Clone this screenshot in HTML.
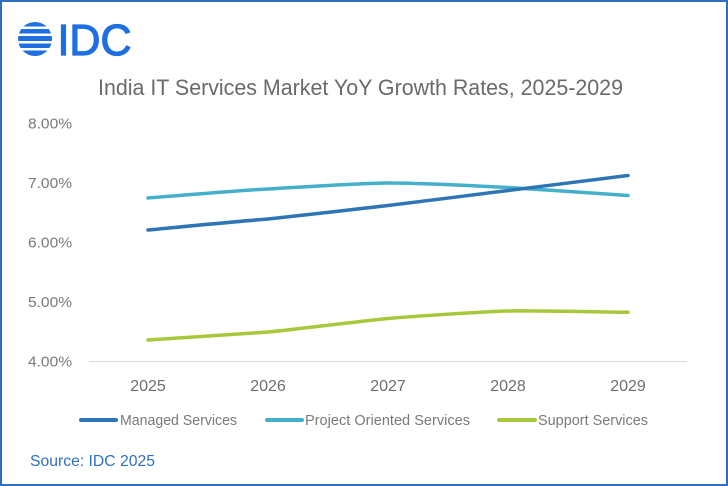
<!DOCTYPE html>
<html><head><meta charset="utf-8"><style>
html,body{margin:0;padding:0;background:#fff;}
svg{display:block;}
</style></head><body>
<svg width="728" height="486" viewBox="0 0 728 486" xmlns="http://www.w3.org/2000/svg" font-family="'Liberation Sans', sans-serif">
<rect x="0" y="0" width="728" height="486" fill="#fff"/>
<rect x="1" y="1" width="726" height="484" fill="none" stroke="#2e6fc4" stroke-width="2"/>
<defs><clipPath id="lc"><circle cx="35" cy="39" r="17"/></clipPath></defs>
<g clip-path="url(#lc)" fill="#1f6fe2">
<rect x="16" y="22" width="40" height="4.5"/>
<rect x="16" y="29" width="40" height="4.5"/>
<rect x="16" y="36" width="40" height="5"/>
<rect x="16" y="43.5" width="40" height="4.5"/>
<rect x="16" y="50.5" width="40" height="6"/>
</g>
<text x="57.5" y="55" font-size="44" fill="#1f6fe2" stroke="#1f6fe2" stroke-width="1.2" textLength="74" lengthAdjust="spacingAndGlyphs">IDC</text>
<text x="98" y="95" font-size="22" fill="#6a6a6a" textLength="525" lengthAdjust="spacingAndGlyphs">India IT Services Market YoY Growth Rates, 2025-2029</text>
<g font-size="15" fill="#7a7a7a" text-anchor="end">
<text x="72" y="128.5" textLength="44" lengthAdjust="spacingAndGlyphs">8.00%</text>
<text x="72" y="188" textLength="44" lengthAdjust="spacingAndGlyphs">7.00%</text>
<text x="72" y="247.5" textLength="44" lengthAdjust="spacingAndGlyphs">6.00%</text>
<text x="72" y="307" textLength="44" lengthAdjust="spacingAndGlyphs">5.00%</text>
<text x="72" y="366.5" textLength="44" lengthAdjust="spacingAndGlyphs">4.00%</text>
</g>
<line x1="89" y1="361.5" x2="687" y2="361.5" stroke="#d9d9d9" stroke-width="1"/>
<g font-size="16" fill="#6e6e6e" text-anchor="middle">
<text x="148" y="391">2025</text>
<text x="268" y="391">2026</text>
<text x="388" y="391">2027</text>
<text x="508" y="391">2028</text>
<text x="628" y="391">2029</text>
</g>
<g fill="none" stroke-width="3.5" stroke-linecap="round" stroke-linejoin="round">
<path stroke="#45b0cb" d="M148,198 C160,197.1 236,190.5 268,189 C292,187.5 364,183.15 388,183 C412,182.85 484,186.25 508,187.5 C532,188.75 616,194.7 628,195.5"/>
<path stroke="#2e75b6" d="M148,230 C160,228.9 236,221.45 268,219 C292,216.55 364,208.35 388,205.5 C412,202.65 484,193.5 508,190.5 C532,187.5 616,177 628,175.5"/>
<path stroke="#a8c83c" d="M148,340 C160,339.2 236,334.15 268,332 C292,329.85 364,320.6 388,318.5 C412,316.4 484,311.6 508,311 C532,310.4 616,312.2 628,312.3"/>
</g>
<g stroke-width="4" stroke-linecap="round">
<line x1="81" y1="420" x2="116" y2="420" stroke="#2e75b6"/>
<line x1="267" y1="420" x2="302" y2="420" stroke="#45b0cb"/>
<line x1="499" y1="420" x2="535" y2="420" stroke="#a8c83c"/>
</g>
<g font-size="15" fill="#7a7a7a">
<text x="120" y="425" textLength="117" lengthAdjust="spacingAndGlyphs">Managed Services</text>
<text x="305" y="425" textLength="165" lengthAdjust="spacingAndGlyphs">Project Oriented Services</text>
<text x="538" y="425" textLength="110" lengthAdjust="spacingAndGlyphs">Support Services</text>
</g>
<text x="30" y="466" font-size="16" fill="#2f6fc6" textLength="125" lengthAdjust="spacingAndGlyphs">Source: IDC 2025</text>
</svg>
</body></html>
